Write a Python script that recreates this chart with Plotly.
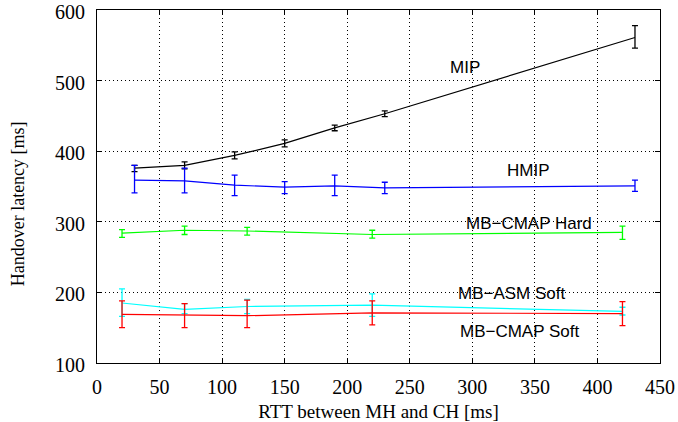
import plotly.graph_objects as go

# MIP
mip_x = [30, 70, 110, 150, 190, 230, 430]
mip_y = [376, 380, 394, 411, 433, 453, 561]
mip_hi = [380, 385, 399, 416, 437, 457, 578]
mip_lo = [371, 375, 389, 406, 429, 449, 546]

# HMIP
hmip_x = [30, 70, 110, 150, 190, 230, 430]
hmip_y = [359, 358, 352, 349, 351, 348, 351]
hmip_hi = [380, 376, 366, 357, 366, 356, 359]
hmip_lo = [341, 341, 337, 340, 337, 340, 343]

# MB-CMAP Hard
cmh_x = [20, 70, 120, 220, 420]
cmh_y = [284, 288, 287, 282, 285]
cmh_hi = [289, 294, 292, 288, 294]
cmh_lo = [278, 282, 281, 277, 275]

# MB-ASM Soft
asm_x = [20, 70, 120, 220, 420]
asm_y = [185, 176, 180, 182, 173]
asm_hi = [205, 184, 190, 198, 179]
asm_lo = [166, 170, 170, 166, 168]

# MB-CMAP Soft
cms_x = [20, 70, 120, 220, 420]
cms_y = [169, 168, 167, 171, 170]
cms_hi = [188, 184, 189, 188, 187]
cms_lo = [150, 150, 150, 154, 153]

series = [
    ("MIP", mip_x, mip_y, mip_hi, mip_lo, "#000000"),
    ("HMIP", hmip_x, hmip_y, hmip_hi, hmip_lo, "#0000ff"),
    ("MB−CMAP Hard", cmh_x, cmh_y, cmh_hi, cmh_lo, "#00ff00"),
    ("MB−ASM Soft", asm_x, asm_y, asm_hi, asm_lo, "#00ffff"),
    ("MB−CMAP Soft", cms_x, cms_y, cms_hi, cms_lo, "#ff0000"),
]

label_text = ["MIP", "HMIP", "MB−CMAP Hard", "MB−ASM Soft", "MB−CMAP Soft"]
label_x = [294, 345, 345, 332, 338]
label_y = [519, 373, 297, 199, 145]

SERIF = "Liberation Serif, Times New Roman, serif"
SANS = "Liberation Sans, Arial, sans-serif"

fig = go.Figure()
for name, xs, ys, hi, lo, col in series:
    fig.add_trace(go.Scatter(
        x=xs, y=ys, mode="lines", name=name,
        line=dict(color=col, width=1.2),
        error_y=dict(type="data", symmetric=False,
                     array=[h - v for h, v in zip(hi, ys)],
                     arrayminus=[v - l for v, l in zip(ys, lo)],
                     color=col, thickness=1.3, width=3),
        showlegend=False,
    ))

for t, x, y in zip(label_text, label_x, label_y):
    fig.add_annotation(x=x, y=y, text=t, showarrow=False,
                       font=dict(family=SANS, size=17, color="#000"))

# y-axis title placed explicitly
fig.add_annotation(text="Handover latency [ms]", xref="paper", yref="paper",
                   x=-0.140, y=0.45, xanchor="center", yanchor="middle",
                   textangle=-90, showarrow=False,
                   font=dict(family=SERIF, size=18, color="#000"))

axis_common = dict(
    showline=True, linecolor="black", linewidth=1, mirror="allticks",
    ticks="inside", ticklen=5, tickcolor="black",
    showgrid=True, gridcolor="black", griddash="1px,3px", gridwidth=1,
    zeroline=False, automargin=False, ticklabeloverflow="allow",
    tickfont=dict(family=SERIF, size=20, color="#000"),
)

fig.update_xaxes(range=[0, 450], dtick=50, tick0=0,
                 title=dict(text="RTT between MH and CH [ms]",
                            font=dict(family=SERIF, size=19, color="#000"),
                            standoff=15),
                 ticklabelstandoff=6,
                 **axis_common)
fig.update_yaxes(range=[100, 600], dtick=100, tick0=100,
                 ticklabelstandoff=7, ticklabelshift=2,
                 **axis_common)

fig.update_layout(
    width=678, height=422,
    margin=dict(l=97, r=18, t=10, b=59, autoexpand=False),
    plot_bgcolor="white", paper_bgcolor="white",
)

fig.write_html("out.html", config={"displayModeBar": False},
               post_script="document.body.style.margin='0';document.body.style.overflow='hidden';")
